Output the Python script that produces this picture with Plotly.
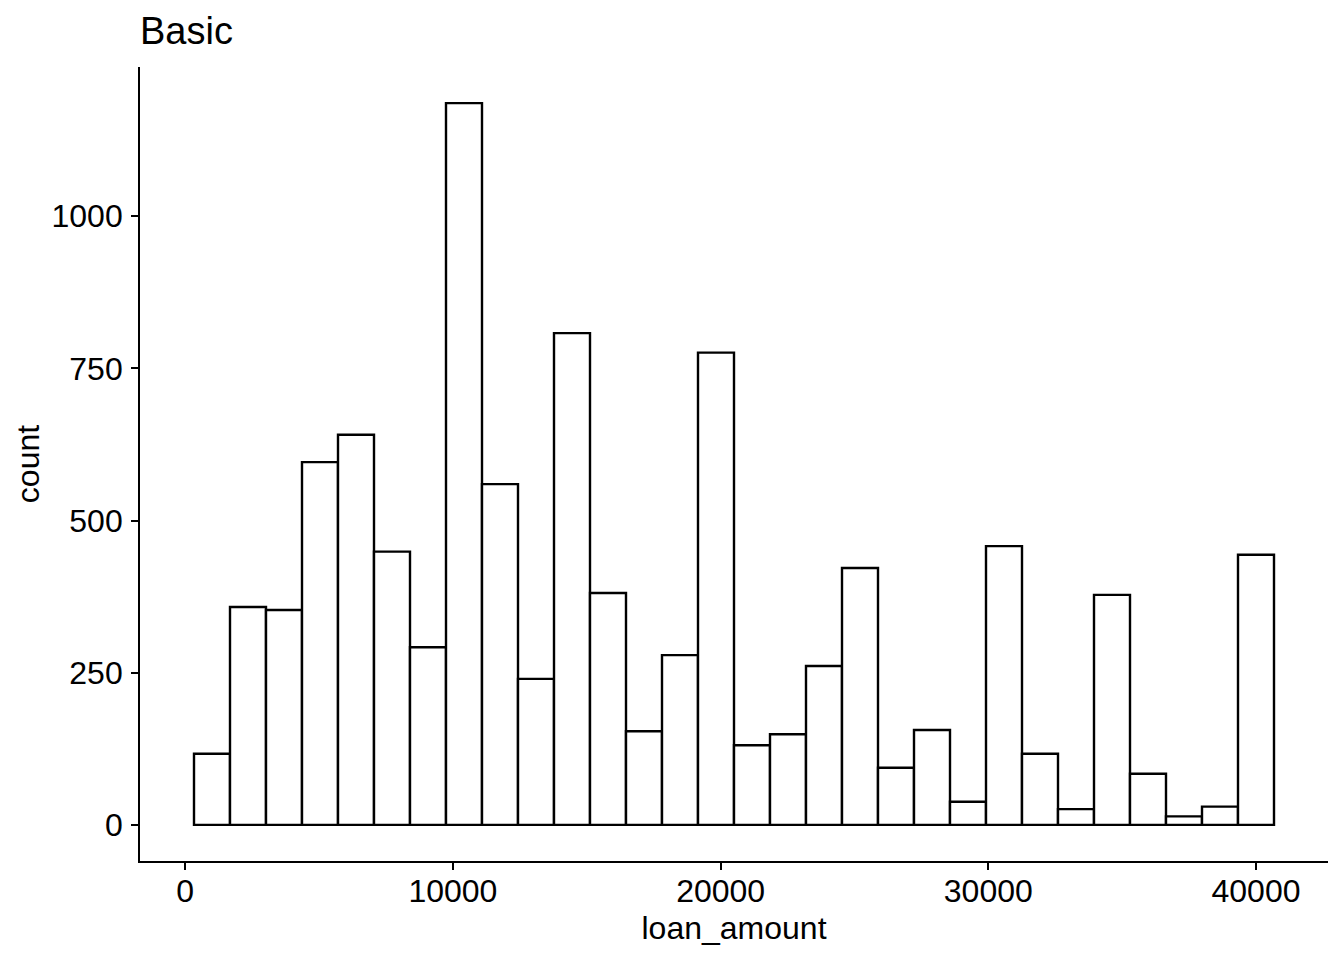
"""
Histogram of loan amounts, styled after a ggplot2 classic theme.
"""
import numpy as np
import plotly.graph_objects as go

# 30 bins spanning the loan amounts, centred on the min/max as ggplot does
loan_min = 1000
loan_max = 40000
n_bins = 30
counts = [117, 358, 353, 596, 641, 449, 292, 1186, 560, 240,
          808, 381, 154, 279, 776, 131, 149, 261, 422, 94,
          156, 38, 458, 117, 26, 378, 84, 14, 30, 444]
x_ticks = [0, 10000, 20000, 30000, 40000]
y_ticks = [0, 250, 500, 750, 1000]

bin_width = (loan_max - loan_min) / (n_bins - 1)
bin_centers = loan_min + bin_width * np.arange(n_bins)

# ggplot style 5% expansion of the data range
x_lo = bin_centers[0] - bin_width / 2
x_hi = bin_centers[-1] + bin_width / 2
x_pad = 0.05 * (x_hi - x_lo)
y_pad = 0.05 * max(counts)

FONT = "Liberation Sans, Arial, sans-serif"

fig = go.Figure(go.Bar(
    x=bin_centers,
    y=counts,
    width=bin_width,
    marker=dict(color="white", line=dict(color="black", width=2.4)),
    showlegend=False,
))

axis_style = dict(
    showgrid=False,
    zeroline=False,
    showline=True,
    linecolor="black",
    linewidth=1.8,
    ticks="outside",
    ticklen=7,
    tickwidth=1.8,
    tickcolor="black",
    tickfont=dict(family=FONT, size=32, color="black"),
)

# the page body keeps its 8px margin, so the figure is sized to fit inside it
fig.update_layout(
    width=1328,
    height=944,
    margin=dict(l=132, r=8, t=59, b=91),
    paper_bgcolor="white",
    plot_bgcolor="white",
    font=dict(family=FONT, color="black"),
    title=dict(
        text="Basic",
        font=dict(family=FONT, size=38, color="black"),
        x=0, xref="paper", xanchor="left",
        y=0.99, yref="container", yanchor="top",
    ),
)
fig.update_xaxes(
    range=[x_lo - x_pad, x_hi + x_pad],
    tickvals=x_ticks,
    ticktext=[str(v) for v in x_ticks],
    ticklabelstandoff=-6,
    title=dict(text="loan_amount", font=dict(family=FONT, size=32), standoff=8),
    **axis_style,
)
fig.update_yaxes(
    range=[-y_pad, max(counts) + y_pad],
    tickvals=y_ticks,
    ticktext=[str(v) for v in y_ticks],
    ticklabelstandoff=2,
    title=dict(text="count", font=dict(family=FONT, size=32), standoff=2),
    **axis_style,
)

fig.write_html("out.html")
